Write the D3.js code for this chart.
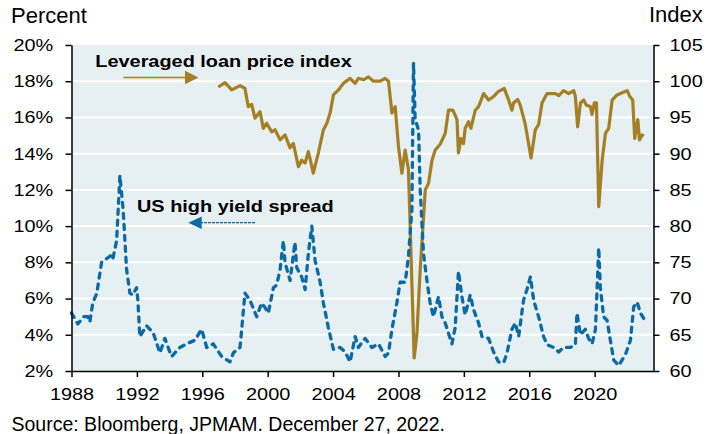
<!DOCTYPE html>
<html>
<head>
<meta charset="utf-8">
<script src="https://cdn.jsdelivr.net/npm/d3@7/dist/d3.min.js"></script>
<style>
  body { margin: 0; background: #fff; }
  svg { font-family: "Liberation Sans", Arial, sans-serif; }
</style>
</head>
<body>
<svg width="721" height="434"></svg>
<script>
// US high yield spread, percent (left axis)
const spreadYears = [1988.00, 1988.39, 1988.75, 1989.00, 1989.12, 1989.30, 1989.55, 1989.84, 1990.45, 1990.53,
  1990.76, 1990.96, 1991.16, 1991.37, 1991.57, 1991.75, 1991.98, 1992.06, 1992.18, 1992.59,
  1993.00, 1993.41, 1993.71, 1994.12, 1994.63, 1995.04, 1995.55, 1995.96, 1996.27, 1996.67,
  1997.19, 1997.69, 1997.90, 1998.31, 1998.61, 1998.92, 1999.33, 1999.63, 1999.84, 2000.04,
  2000.35, 2000.55, 2000.76, 2000.96, 2001.06, 2001.37, 2001.67, 2001.78, 2002.08, 2002.29,
  2002.49, 2002.70, 2002.90, 2003.21, 2003.41, 2003.71, 2004.02, 2004.43, 2004.74, 2005.04,
  2005.35, 2005.55, 2005.96, 2006.37, 2006.78, 2007.19, 2007.39, 2007.60, 2007.90, 2008.10,
  2008.41, 2008.61, 2008.82, 2008.92, 2009.02, 2009.23, 2009.33, 2009.53, 2009.74, 2009.94,
  2010.14, 2010.45, 2010.66, 2010.86, 2011.27, 2011.47, 2011.67, 2011.88, 2012.08, 2012.39,
  2012.59, 2012.90, 2013.11, 2013.51, 2013.82, 2014.12, 2014.43, 2014.64, 2014.94, 2015.15,
  2015.35, 2015.65, 2015.86, 2016.07, 2016.27, 2016.57, 2016.88, 2017.09, 2017.49, 2017.80,
  2018.10, 2018.51, 2018.82, 2018.92, 2019.13, 2019.43, 2019.63, 2019.84, 2020.05, 2020.25,
  2020.35, 2020.55, 2020.76, 2020.96, 2021.17, 2021.47, 2021.88, 2022.19, 2022.39, 2022.60,
  2022.80, 2023.00];
const spreadValues = [5.2, 4.6, 5.0, 5.0, 4.7, 5.75, 6.3, 8.0, 8.4, 8.2,
  9.2, 12.8, 10.9, 7.6, 6.3, 6.2, 6.6, 5.9, 3.9, 4.5,
  4.1, 3.0, 3.8, 2.8, 3.3, 3.5, 3.7, 4.3, 3.3, 3.5,
  2.8, 2.5, 3.0, 3.3, 6.3, 5.9, 5.0, 5.75, 5.5, 5.2,
  6.6, 6.75, 7.6, 9.2, 8.0, 7.0, 9.1, 7.7, 7.2, 6.5,
  8.5, 10.0, 8.1, 6.9, 5.75, 4.4, 3.2, 3.3, 3.05, 2.5,
  3.9, 3.3, 3.8, 3.3, 3.5, 2.8, 3.0, 4.3, 5.75, 6.9,
  6.9, 8.3, 10.9, 19.0, 15.9, 15.3, 12.0, 8.5, 7.0, 5.75,
  5.0, 6.1, 5.0, 4.65, 3.5, 4.4, 7.5, 6.1, 5.1, 6.2,
  5.4, 4.65, 3.9, 3.8, 3.05, 2.5, 2.45, 3.0, 4.3, 4.65,
  3.9, 5.9, 6.5, 7.2, 5.9, 5.0, 3.9, 3.45, 3.3, 3.05,
  3.3, 3.3, 3.45, 5.2, 4.0, 4.3, 3.8, 3.5, 4.3, 8.8,
  6.6, 5.0, 4.8, 3.7, 2.6, 2.3, 2.9, 3.7, 5.55, 5.8,
  5.2, 4.9];

// Leveraged loan price index (right axis)
const loanYears = [1996.98, 1997.39, 1997.80, 1998.31, 1998.61, 1998.81, 1999.02, 1999.22, 1999.53, 1999.73,
  1999.94, 2000.25, 2000.45, 2000.76, 2001.06, 2001.37, 2001.57, 2001.88, 2002.08, 2002.29,
  2002.49, 2002.79, 2003.10, 2003.41, 2003.62, 2003.82, 2004.02, 2004.33, 2004.63, 2005.04,
  2005.35, 2005.55, 2005.86, 2006.16, 2006.47, 2006.88, 2007.19, 2007.39, 2007.60, 2007.80,
  2008.00, 2008.21, 2008.41, 2008.61, 2008.96, 2009.13, 2009.33, 2009.64, 2009.84, 2010.05,
  2010.25, 2010.55, 2010.86, 2011.06, 2011.33, 2011.58, 2011.67, 2011.82, 2011.98, 2012.08,
  2012.29, 2012.43, 2012.70, 2012.90, 2013.21, 2013.51, 2013.82, 2014.12, 2014.47, 2014.74,
  2014.94, 2015.04, 2015.29, 2015.45, 2015.76, 2016.11, 2016.37, 2016.57, 2016.78, 2017.09,
  2017.60, 2017.80, 2018.10, 2018.41, 2018.72, 2018.82, 2018.96, 2019.13, 2019.33, 2019.49,
  2019.74, 2019.84, 2019.98, 2020.11, 2020.25, 2020.46, 2020.66, 2020.86, 2021.07, 2021.37,
  2021.68, 2021.99, 2022.15, 2022.33, 2022.45, 2022.64, 2022.74, 2022.90, 2023.00];
const loanValues = [99.2, 99.8, 98.8, 99.4, 99.0, 96.5, 96.8, 94.9, 95.8, 93.5,
  94.2, 93.0, 93.3, 91.9, 92.6, 90.8, 91.4, 88.2, 89.1, 88.7,
  90.3, 87.3, 90.1, 93.3, 94.2, 95.6, 98.1, 98.8, 99.7, 100.4,
  99.7, 100.4, 100.2, 100.6, 100.0, 100.0, 100.4, 100.0, 95.6, 96.5,
  91.0, 87.3, 90.5, 87.8, 61.8, 65.2, 74.0, 85.0, 85.9, 89.1,
  90.5, 91.3, 92.8, 96.0, 96.0, 94.7, 90.1, 92.1, 91.4, 93.5,
  94.4, 93.5, 96.0, 96.5, 98.3, 97.4, 97.9, 98.6, 99.0, 97.4,
  96.0, 97.0, 97.5, 96.7, 94.0, 89.4, 93.3, 94.0, 97.0, 98.3,
  98.3, 98.0, 98.7, 98.3, 98.7, 97.9, 93.7, 97.0, 97.4, 96.7,
  96.5, 95.4, 97.0, 97.0, 82.7, 89.1, 92.8, 93.5, 97.4, 98.1,
  98.4, 98.7, 97.9, 97.4, 92.1, 94.7, 91.9, 92.6, 92.4];

const xTicks = [1988, 1992, 1996, 2000, 2004, 2008, 2012, 2016, 2020];
const leftTicks = [2, 4, 6, 8, 10, 12, 14, 16, 18, 20];
const rightTicks = [60, 65, 70, 75, 80, 85, 90, 95, 100, 105];

const spread = spreadYears.map((t, i) => ({t, v: spreadValues[i]}));
const loan = loanYears.map((t, i) => ({t, v: loanValues[i]}));

const svg = d3.select("svg");
const plotL = 71.5, plotR = 653.5, plotT = 45, plotB = 371;
const stretch = 1.17;   // chart labels are a bit wider than plain Arial

const x = d3.scaleLinear().domain([1988, 2023.6]).range([plotL, plotR]);
const yL = d3.scaleLinear().domain([2, 20]).range([plotB, plotT]);
const yR = d3.scaleLinear().domain([60, 105]).range([plotB, plotT]);

const gold = "#a47f24";
const blue = "#0a6aa6";

// plot background
svg.append("rect")
  .attr("x", plotL).attr("y", plotT)
  .attr("width", plotR - plotL).attr("height", plotB - plotT)
  .attr("fill", "#e6eff2");

// white gridlines
svg.append("g")
  .selectAll("line")
  .data(leftTicks.filter(d => d > 2 && d < 20))
  .join("line")
    .attr("x1", plotL).attr("x2", plotR)
    .attr("y1", d => yL(d)).attr("y2", d => yL(d))
    .attr("stroke", "#fff")
    .attr("stroke-width", 2);

// loan index
svg.append("path")
  .datum(loan)
  .attr("fill", "none")
  .attr("stroke", gold)
  .attr("stroke-width", 3.2)
  .attr("stroke-linejoin", "round")
  .attr("d", d3.line().x(d => x(d.t)).y(d => yR(d.v)));

// HY spread
svg.append("path")
  .datum(spread)
  .attr("fill", "none")
  .attr("stroke", blue)
  .attr("stroke-width", 3.3)
  .attr("stroke-dasharray", "5,6")
  .attr("stroke-linecap", "round")
  .attr("stroke-linejoin", "round")
  .attr("d", d3.line().x(d => x(d.t)).y(d => yL(d.v)));

// axes
const styleAxis = g => {
  g.selectAll(".domain").attr("stroke", "#000").attr("stroke-width", 1.5);
  g.selectAll(".tick line").attr("stroke", "#000").attr("stroke-width", 1.5);
  g.selectAll("text").attr("fill", "#000").style("font-size", "17px")
    .style("font-family", "'Liberation Sans', Arial, sans-serif")
    .attr("transform", `scale(${stretch},1)`);
};

svg.append("g")
  .attr("transform", `translate(${plotL},0)`)
  .call(d3.axisLeft(yL).tickValues(leftTicks).tickFormat(d => d + "%").tickSize(6).tickSizeOuter(0).tickPadding(9.6))
  .call(styleAxis);

svg.append("g")
  .attr("transform", `translate(${plotR},0)`)
  .call(d3.axisRight(yR).tickValues(rightTicks).tickSize(6).tickSizeOuter(0).tickPadding(7.7))
  .call(styleAxis);

svg.append("g")
  .attr("transform", `translate(0,${plotB})`)
  .call(d3.axisBottom(x).tickValues(xTicks).tickFormat(d3.format("d")).tickSize(6).tickSizeOuter(0).tickPadding(11))
  .call(styleAxis);

// axis titles
svg.append("text").attr("x", 11).attr("y", 22.5)
  .style("font-size", "22px").text("Percent");
svg.append("text").attr("x", 649).attr("y", 22)
  .style("font-size", "22px").text("Index");

// annotations
svg.append("text")
  .attr("transform", `translate(95.3,66.7) scale(${stretch},1)`)
  .style("font-size", "17px").style("font-weight", "bold")
  .text("Leveraged loan price index");
svg.append("line")
  .attr("x1", 123.5).attr("x2", 187).attr("y1", 77.5).attr("y2", 77.5)
  .attr("stroke", gold).attr("stroke-width", 1.6);
svg.append("path")
  .attr("d", "M185,70.8 L198.5,77.5 L185,84.2 Z")
  .attr("fill", gold);

svg.append("text")
  .attr("transform", `translate(137,211.7) scale(${stretch},1)`)
  .style("font-size", "17px").style("font-weight", "bold")
  .text("US high yield spread");
svg.append("line")
  .attr("x1", 255).attr("x2", 200).attr("y1", 222.7).attr("y2", 222.7)
  .attr("stroke", blue).attr("stroke-width", 1.2).attr("stroke-dasharray", "3,1");
svg.append("path")
  .attr("d", "M188.3,222.7 L201.7,216.4 L201.7,229 Z")
  .attr("fill", blue);

// source
svg.append("text").attr("x", 11.5).attr("y", 430.5)
  .style("font-size", "19.5px")
  .text("Source: Bloomberg, JPMAM. December 27, 2022.");
</script>
</body>
</html>
